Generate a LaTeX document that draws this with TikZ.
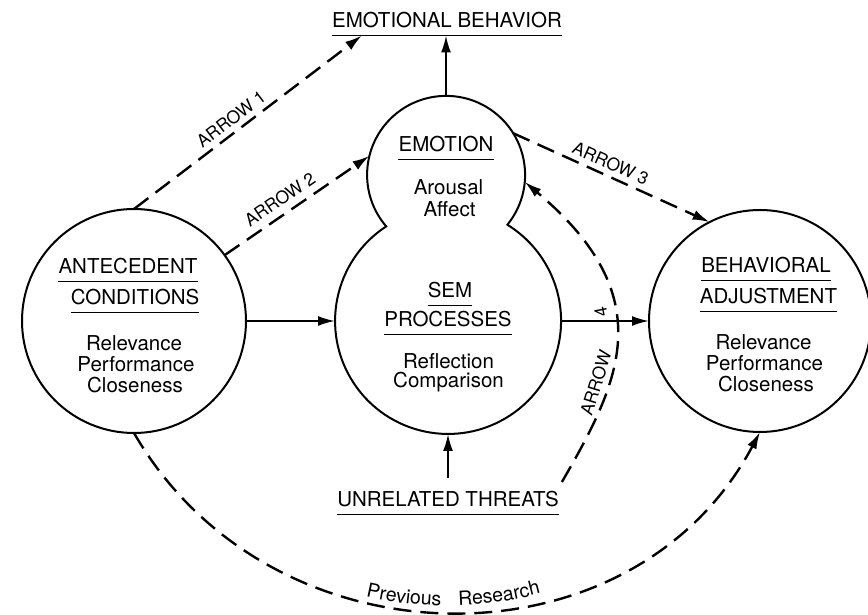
\documentclass[tikz,border=0pt]{standalone}
\usepackage{fontspec}
\setmainfont{TeX Gyre Heros}
\usetikzlibrary{arrows.meta,decorations.text}
\newcommand\bodyfs{\fontsize{20.5pt}{21.5pt}\selectfont}
\newcommand\tagfs{\fontsize{17.5pt}{18pt}\selectfont}
\newcommand\pathfs{\fontsize{19.5pt}{20pt}\selectfont}

\begin{document}
\begin{tikzpicture}[x=1pt,y=1pt,
  txt/.style={anchor=base, inner sep=0pt, font=\bodyfs},
  ring/.style={circle, inner sep=0pt, outer sep=0pt, line width=2pt},
  ul/.style={line width=1.8pt},
  solidarrow/.style={line width=2pt, -{Latex[length=17pt,width=10pt]}},
  dasharrow/.style={line width=2.4pt, dash pattern=on 18pt off 9pt, -{Latex[length=17pt,width=10pt]}},
  tag/.style={font=\tagfs, sloped, inner sep=0pt},
]
\fill[white] (0,0) rectangle (868,615);
\useasboundingbox (0,0) rectangle (868,615);

% the three process circles
\node[ring, draw, minimum size=224pt] (ac) at (134,294) {};
\node[ring, minimum size=158pt] (emo) at (446,440) {};
\node[ring, minimum size=226pt] (sem) at (448,294) {};
\node[ring, draw, minimum size=222pt] (ba) at (760,294) {};
% joint outline of the emotion and SEM circles
\draw[line width=2pt] (emo.-39.1) arc[start angle=-39.1, end angle=220.7, radius=79]
  arc[start angle=123.2, end angle=418.3, radius=113] -- cycle;

% texts
\node[txt] (eb) at (447,587) {EMOTIONAL BEHAVIOR};
\node[txt] (ut) at (448,108) {UNRELATED THREATS};
\node[txt] (acA) at (128,341) {ANTECEDENT};
\node[txt] (acB) at (135,310) {CONDITIONS};
\node[txt] (acC) at (134,264) {Relevance};
\node[txt] (acD) at (136,243) {Performance};
\node[txt] (acE) at (135,222) {Closeness};
\node[txt] (emA) at (446,463) {EMOTION};
\node[txt] (emB) at (448.5,420) {Arousal};
\node[txt] (emC) at (449.5,398) {Affect};
\node[txt] (smA) at (450,317) {SEM};
\node[txt] (smB) at (448,288) {PROCESSES};
\node[txt] (smC) at (448.5,246) {Reflection};
\node[txt] (smD) at (448.5,227) {Comparison};
\node[txt] (baA) at (766,342) {BEHAVIORAL};
\node[txt] (baB) at (768.5,311) {ADJUSTMENT};
\node[txt] (baC) at (763.5,265) {Relevance};
\node[txt] (baD) at (764.5,244) {Performance};
\node[txt] (baE) at (766,223) {Closeness};

% underlines
\foreach \n in {eb,ut,acA,acB,emA,smA,smB,baA,baB}
  \draw[ul] ([yshift=-7.5pt]\n.base west) -- ([yshift=-7.5pt]\n.base east);

\coordinate (a1tip) at ([shift={(30,-7.5)}]eb.base west);
\coordinate (a4start) at ([shift={(3,25)}]ut.base east);

% connectors
\draw[solidarrow] (emo.north) -- (emo.north |- a1tip);
\draw[dasharrow] (ac.north) -- node[tag, above=5pt, pos=0.46] {ARROW 1} (a1tip);
\draw[dasharrow] (ac.36) -- node[tag, above=7pt, pos=0.44] {ARROW 2} (emo.166);
\draw[dasharrow] (emo.32) -- node[tag, above=5pt, pos=0.47] {ARROW 3} (ba.117);
\draw[solidarrow] (ac.east) -- (sem.west);
\draw[solidarrow] (sem.east) -- (ba.west);
\draw[solidarrow] ([yshift=13pt]ut.north) -- (sem.south);
\draw[dasharrow] (a4start) to[out=60, in=-40, out distance=115pt, in distance=180pt]
  node[tag, above=5pt, pos=0.33] {ARROW}
  node[tag, allow upside down, above=6pt, pos=0.6] {4} (emo.-5);
\draw[dasharrow] (ac.south) to[out=-60, in=-118, looseness=1.12] (ba.south);

% curved label under the long arc
\path[decorate, decoration={text along path, text={|\pathfs|Previous}, text align=center}]
  (324.2,30.8) arc[start angle=250, end angle=276, radius=359];
\path[decorate, decoration={text along path, text={|\pathfs|Research}, text align=center}]
  (415.7,10.6) arc[start angle=265, end angle=292, radius=359];
\end{tikzpicture}
\end{document}
